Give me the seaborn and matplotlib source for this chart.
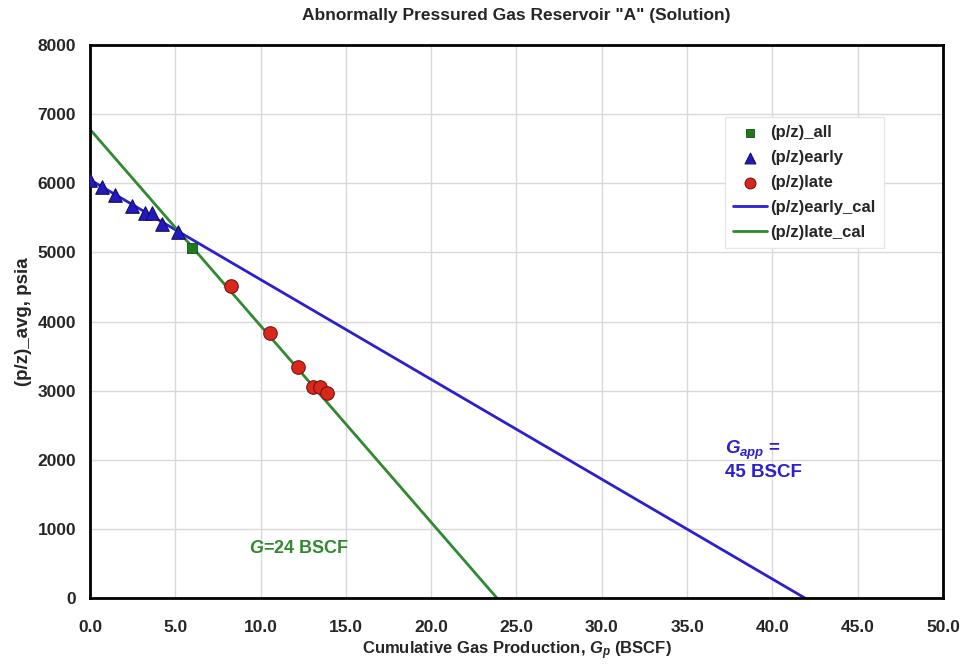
import numpy as np
import pandas as pd
import seaborn as sns
from matplotlib import pyplot as plt
from matplotlib.ticker import MultipleLocator, FormatStrFormatter

# puntos
gp_early = [0.0, 0.69, 1.47, 2.44, 3.22, 3.62, 4.24, 5.18]
pz_early = [6050, 5940, 5830, 5665, 5570, 5570, 5410, 5290]
gp_all = [6.0]
pz_all = [5060]
gp_late = [8.25, 10.55, 12.21, 13.09, 13.48, 13.87]
pz_late = [4515, 3830, 3340, 3050, 3050, 2970]

# rectas ajustadas
gp_early_cal = [0.0, 41.9]
pz_early_cal = [6050, 0]
gp_late_cal = [0.0, 23.85]
pz_late_cal = [6780, 0]

sns.set_theme(style="white")
plt.rcParams['font.family'] = ['Liberation Sans', 'DejaVu Sans']
plt.rcParams['font.weight'] = 'bold'
plt.rcParams['mathtext.fontset'] = 'custom'
plt.rcParams['mathtext.it'] = 'Liberation Sans:italic:bold'
plt.rcParams['mathtext.rm'] = 'Liberation Sans:bold'

AZUL = "#2b1fcf"
VERDE = "#2f8a2f"

fig = plt.figure(figsize=(9.62, 6.68), dpi=100)
ax = fig.add_axes([0.0936, 0.1048, 0.8866, 0.8278])

df_early = pd.DataFrame({"gp": gp_early, "pz": pz_early})
df_all = pd.DataFrame({"gp": gp_all, "pz": pz_all})
df_late = pd.DataFrame({"gp": gp_late, "pz": pz_late})
df_ecal = pd.DataFrame({"gp": gp_early_cal, "pz": pz_early_cal})
df_lcal = pd.DataFrame({"gp": gp_late_cal, "pz": pz_late_cal})

sns.lineplot(data=df_ecal, x="gp", y="pz", ax=ax, color=AZUL, lw=2, label="(p/z)early_cal", zorder=2)
sns.lineplot(data=df_lcal, x="gp", y="pz", ax=ax, color=VERDE, lw=2, label="(p/z)late_cal", zorder=2)
sns.scatterplot(data=df_all, x="gp", y="pz", ax=ax, marker="s", color="#1d7a1d", edgecolor="#0f4a0f",
                s=55, label="(p/z)_all", zorder=3)
sns.scatterplot(data=df_early, x="gp", y="pz", ax=ax, marker="^", color="#2418c0", edgecolor="#10105a",
                s=95, label="(p/z)early", zorder=3)
sns.scatterplot(data=df_late, x="gp", y="pz", ax=ax, marker="o", color="#d8281c", edgecolor="#7a1010",
                s=95, label="(p/z)late", zorder=3)

ax.set_xlim(0, 50)
ax.set_ylim(0, 8000)
ax.xaxis.set_major_locator(MultipleLocator(5))
ax.xaxis.set_minor_locator(MultipleLocator(1))
ax.yaxis.set_major_locator(MultipleLocator(1000))
ax.yaxis.set_minor_locator(MultipleLocator(200))
ax.xaxis.set_major_formatter(FormatStrFormatter("%.1f"))
ax.grid(True, which="major", color="#d9d9d9", lw=1)
ax.tick_params(which="both", direction="in", color="black", width=1.5)
ax.tick_params(which="major", length=7, labelsize=12.5)
ax.tick_params(axis="x", which="major", pad=16)
ax.tick_params(axis="y", which="major", pad=10)
ax.tick_params(which="minor", length=5)
for lab in ax.get_xticklabels() + ax.get_yticklabels():
    lab.set_fontweight("bold")
for sp in ax.spines.values():
    sp.set_color("black")
    sp.set_linewidth(2)

ax.set_xlabel("Cumulative Gas Production, $G_p$ (BSCF)", fontsize=12, fontweight="bold", labelpad=3)
ax.set_ylabel("(p/z)_avg, psia", fontsize=13.5, fontweight="bold", labelpad=4)
ax.set_title('Abnormally Pressured Gas Reservoir "A" (Solution)', fontsize=12.5, fontweight="bold", pad=18)

ax.text(9.3, 720, "$G$=24 BSCF", color=VERDE, fontsize=13, fontweight="bold", va="center")
ax.text(37.2, 2300, "$G_{app}$ =\n45 BSCF", color=AZUL, fontsize=13.5, fontweight="bold", va="top",
        linespacing=1.1)

handles, labels = ax.get_legend_handles_labels()
orden = [2, 3, 4, 0, 1]
ax.legend([handles[i] for i in orden], [labels[i] for i in orden], loc="upper left",
          bbox_to_anchor=(0.745, 0.838), bbox_transform=fig.transFigure,
          frameon=True, fancybox=False, edgecolor="#e6e6e6", framealpha=1,
          prop={"weight": "bold", "size": 12}, handlelength=2.0, handletextpad=0.2,
          labelspacing=0.6, borderpad=0.5, markerscale=0.8)

fig.savefig("out.png", dpi=100)
